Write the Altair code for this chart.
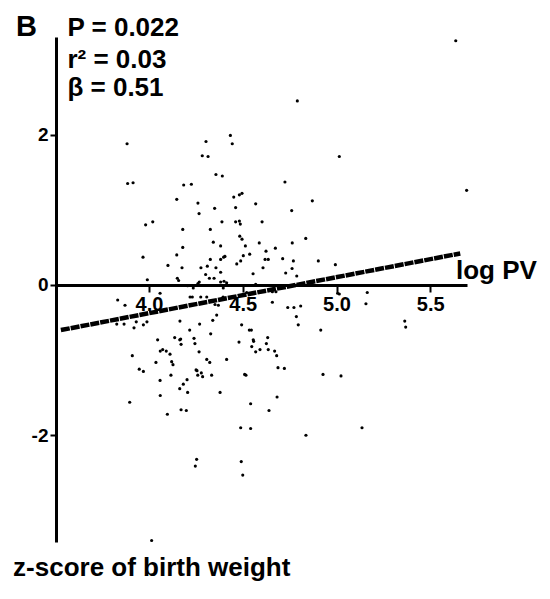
import altair as alt
import pandas as pd

# ---- data ----
log_pv = [
    4.791, 5.636, 4.014, 5.694, 5.015, 3.883, 4.434, 4.444, 4.304, 4.284,
    4.315, 3.886, 3.915, 4.357, 4.391, 4.185, 4.226, 4.725, 4.148, 4.452,
    4.482, 4.496, 4.261, 4.569, 4.462, 4.350, 4.761, 4.267, 3.982, 4.020,
    4.389, 4.462, 4.482, 4.487, 4.603, 4.180, 4.327, 4.484, 4.496, 4.343,
    4.588, 4.764, 4.180, 4.382, 4.514, 4.674, 4.624, 3.968, 4.148, 4.537,
    4.503, 4.405, 4.398, 4.713, 4.327, 4.619, 4.636, 4.382, 4.489, 4.468,
    4.770, 4.903, 4.101, 4.311, 4.176, 4.277, 4.357, 4.608, 4.763, 4.994,
    4.836, 4.871, 4.382, 4.729, 4.555, 4.302, 4.788, 4.322, 4.347, 4.151,
    4.158, 3.991, 4.268, 4.261, 4.382, 4.400, 4.414, 4.569, 4.206, 4.236,
    4.396, 4.059, 3.833, 3.872, 4.219, 4.231, 4.276, 4.308, 4.395, 4.370,
    4.352, 4.521, 4.658, 4.677, 5.006, 5.015, 5.164, 4.658, 4.740, 4.773,
    4.809, 5.157, 4.786, 4.361, 4.340, 4.796, 5.364, 5.369, 4.916, 3.828,
    3.867, 3.932, 3.920, 3.970, 3.989, 4.165, 4.270, 4.217, 4.494, 4.535,
    4.546, 4.329, 4.046, 4.137, 4.164, 4.169, 4.171, 4.240, 4.245, 4.480,
    4.556, 4.558, 4.633, 4.626, 4.548, 4.569, 4.592, 4.636, 4.670, 4.681,
    4.060, 4.073, 4.092, 4.112, 3.911, 4.267, 4.121, 4.128, 4.037, 4.308,
    4.324, 4.414, 3.948, 3.970, 4.251, 4.256, 4.279, 4.260, 4.286, 4.334,
    4.117, 4.510, 4.517, 4.688, 4.722, 4.928, 5.024, 4.059, 4.203, 4.183,
    4.164, 4.206, 4.379, 4.060, 3.897, 4.542, 4.683, 4.171, 4.199, 4.098,
    4.640, 4.489, 4.542, 4.837, 5.136, 4.254, 4.247, 4.492, 4.500,
]
z_score = [
    2.45, 3.25, -3.40, 1.26, 1.71, 1.88, 1.99, 1.88, 1.91, 1.72,
    1.71, 1.35, 1.36, 1.47, 1.45, 1.33, 1.34, 1.37, 1.14, 1.17,
    1.20, 1.22, 1.09, 1.08, 1.03, 1.02, 0.99, 0.95, 0.80, 0.84,
    0.84, 0.84, 0.85, 0.81, 0.84, 0.74, 0.74, 0.65, 0.61, 0.57,
    0.56, 0.56, 0.50, 0.52, 0.52, 0.49, 0.45, 0.37, 0.40, 0.41,
    0.39, 0.38, 0.37, 0.35, 0.34, 0.34, 0.34, 0.34, 0.32, 0.28,
    0.32, 0.32, 0.26, 0.25, 0.23, 0.23, 0.23, 0.23, 0.22, 0.27,
    0.62, 1.12, 0.17, 0.16, 0.15, 0.14, 0.12, 0.09, 0.09, 0.09,
    0.06, 0.07, 0.04, 0.02, 0.04, 0.05, 0.03, 0.01, -0.01, -0.04,
    -0.04, -0.11, -0.20, -0.27, -0.16, -0.16, -0.16, -0.16, -0.16, -0.27,
    -0.26, -0.10, -0.09, -0.09, -0.11, -0.12, -0.10, -0.23, -0.30, -0.30,
    -0.28, -0.25, -0.42, -0.40, -0.47, -0.53, -0.48, -0.56, -0.60, -0.52,
    -0.52, -0.49, -0.57, -0.53, -0.49, -0.48, -0.52, -0.60, -0.53, -0.60,
    -0.60, -0.65, -0.73, -0.70, -0.73, -0.72, -0.79, -0.71, -0.78, -0.76,
    -0.73, -0.75, -0.70, -0.78, -0.82, -0.89, -0.86, -0.86, -0.88, -0.94,
    -0.88, -0.86, -0.88, -0.92, -0.94, -0.89, -1.02, -1.06, -1.03, -0.99,
    -1.03, -0.99, -1.12, -1.15, -1.13, -1.14, -1.17, -1.20, -1.22, -1.20,
    -1.20, -1.19, -1.20, -1.10, -1.11, -1.19, -1.21, -1.27, -1.26, -1.32,
    -1.38, -1.43, -1.43, -1.47, -1.56, -1.58, -1.49, -1.66, -1.67, -1.72,
    -1.67, -1.90, -1.91, -2.00, -1.90, -2.32, -2.41, -2.35, -2.53,
]
fit_x = [3.53, 5.66]
fit_y = [-0.60, 0.42]
x_ticks = [4.0, 4.5, 5.0, 5.5]
y_ticks = [-2, 0, 2]
panel_label = "B"
stat_lines = ["P = 0.022", "r\u00b2 = 0.03", "\u03b2 = 0.51"]
x_title = "log PV"
y_title = "z-score of birth weight"

FONT = "Liberation Sans"

pts = pd.DataFrame({"x": log_pv, "y": z_score})
fit = pd.DataFrame({"x": fit_x, "y": fit_y})

xscale = alt.Scale(domain=[3.504, 5.696], nice=False, zero=False)
yscale = alt.Scale(domain=[-3.42, 3.30], nice=False, zero=False)

xaxis = alt.Axis(
    values=x_ticks, format=".1f", title=None, grid=False, orient="bottom",
    offset=-257, domainWidth=3, domainColor="black", tickColor="black",
    tickWidth=2, tickSize=7, labelFont=FONT, labelFontWeight="bold",
    labelFontSize=20, labelColor="black", labelPadding=2,
)
yaxis = alt.Axis(
    values=y_ticks, format="d", title=None, grid=False,
    domainWidth=3, domainColor="black", tickColor="black", tickWidth=2,
    tickSize=6, labelFont=FONT, labelFontWeight="bold", labelFontSize=19,
    labelColor="black", labelPadding=2,
    labelExpr="replace(datum.label, '\u2212', '-')",
)

points = alt.Chart(pts).mark_circle(size=10, color="black", opacity=1).encode(
    x=alt.X("x:Q", scale=xscale, axis=xaxis),
    y=alt.Y("y:Q", scale=yscale, axis=yaxis),
)

line = alt.Chart(fit).mark_line(color="black", strokeWidth=4.5, strokeDash=[9, 1]).encode(
    x=alt.X("x:Q", scale=xscale),
    y=alt.Y("y:Q", scale=yscale),
)

stats = pd.DataFrame({"x": [3.565] * 3, "y": [3.316, 2.89, 2.51], "t": stat_lines})
stat_text = alt.Chart(stats).mark_text(
    align="left", baseline="alphabetic", font=FONT, fontWeight="bold",
    fontSize=26, color="black",
).encode(x=alt.X("x:Q", scale=xscale), y=alt.Y("y:Q", scale=yscale), text="t:N")

other = pd.DataFrame({
    "x": [3.29, 5.637, 3.275],
    "y": [3.316, 0.08, -3.87],
    "t": [panel_label, x_title, y_title],
    "s": [29, 26, 26],
})
other_text = alt.Chart(other).mark_text(
    align="left", baseline="alphabetic", font=FONT, fontWeight="bold",
    color="black",
).encode(
    x=alt.X("x:Q", scale=xscale), y=alt.Y("y:Q", scale=yscale), text="t:N",
    size=alt.Size("s:Q", scale=None, legend=None),
)

chart = alt.layer(line, points, stat_text, other_text).properties(
    width=411, height=505,
    autosize=alt.AutoSizeParams(type="none"),
    padding={"left": 48, "top": 29, "right": 75, "bottom": 45},
).configure_view(stroke=None)

chart.save("out.html", embed_options={"renderer": "svg", "actions": False})
